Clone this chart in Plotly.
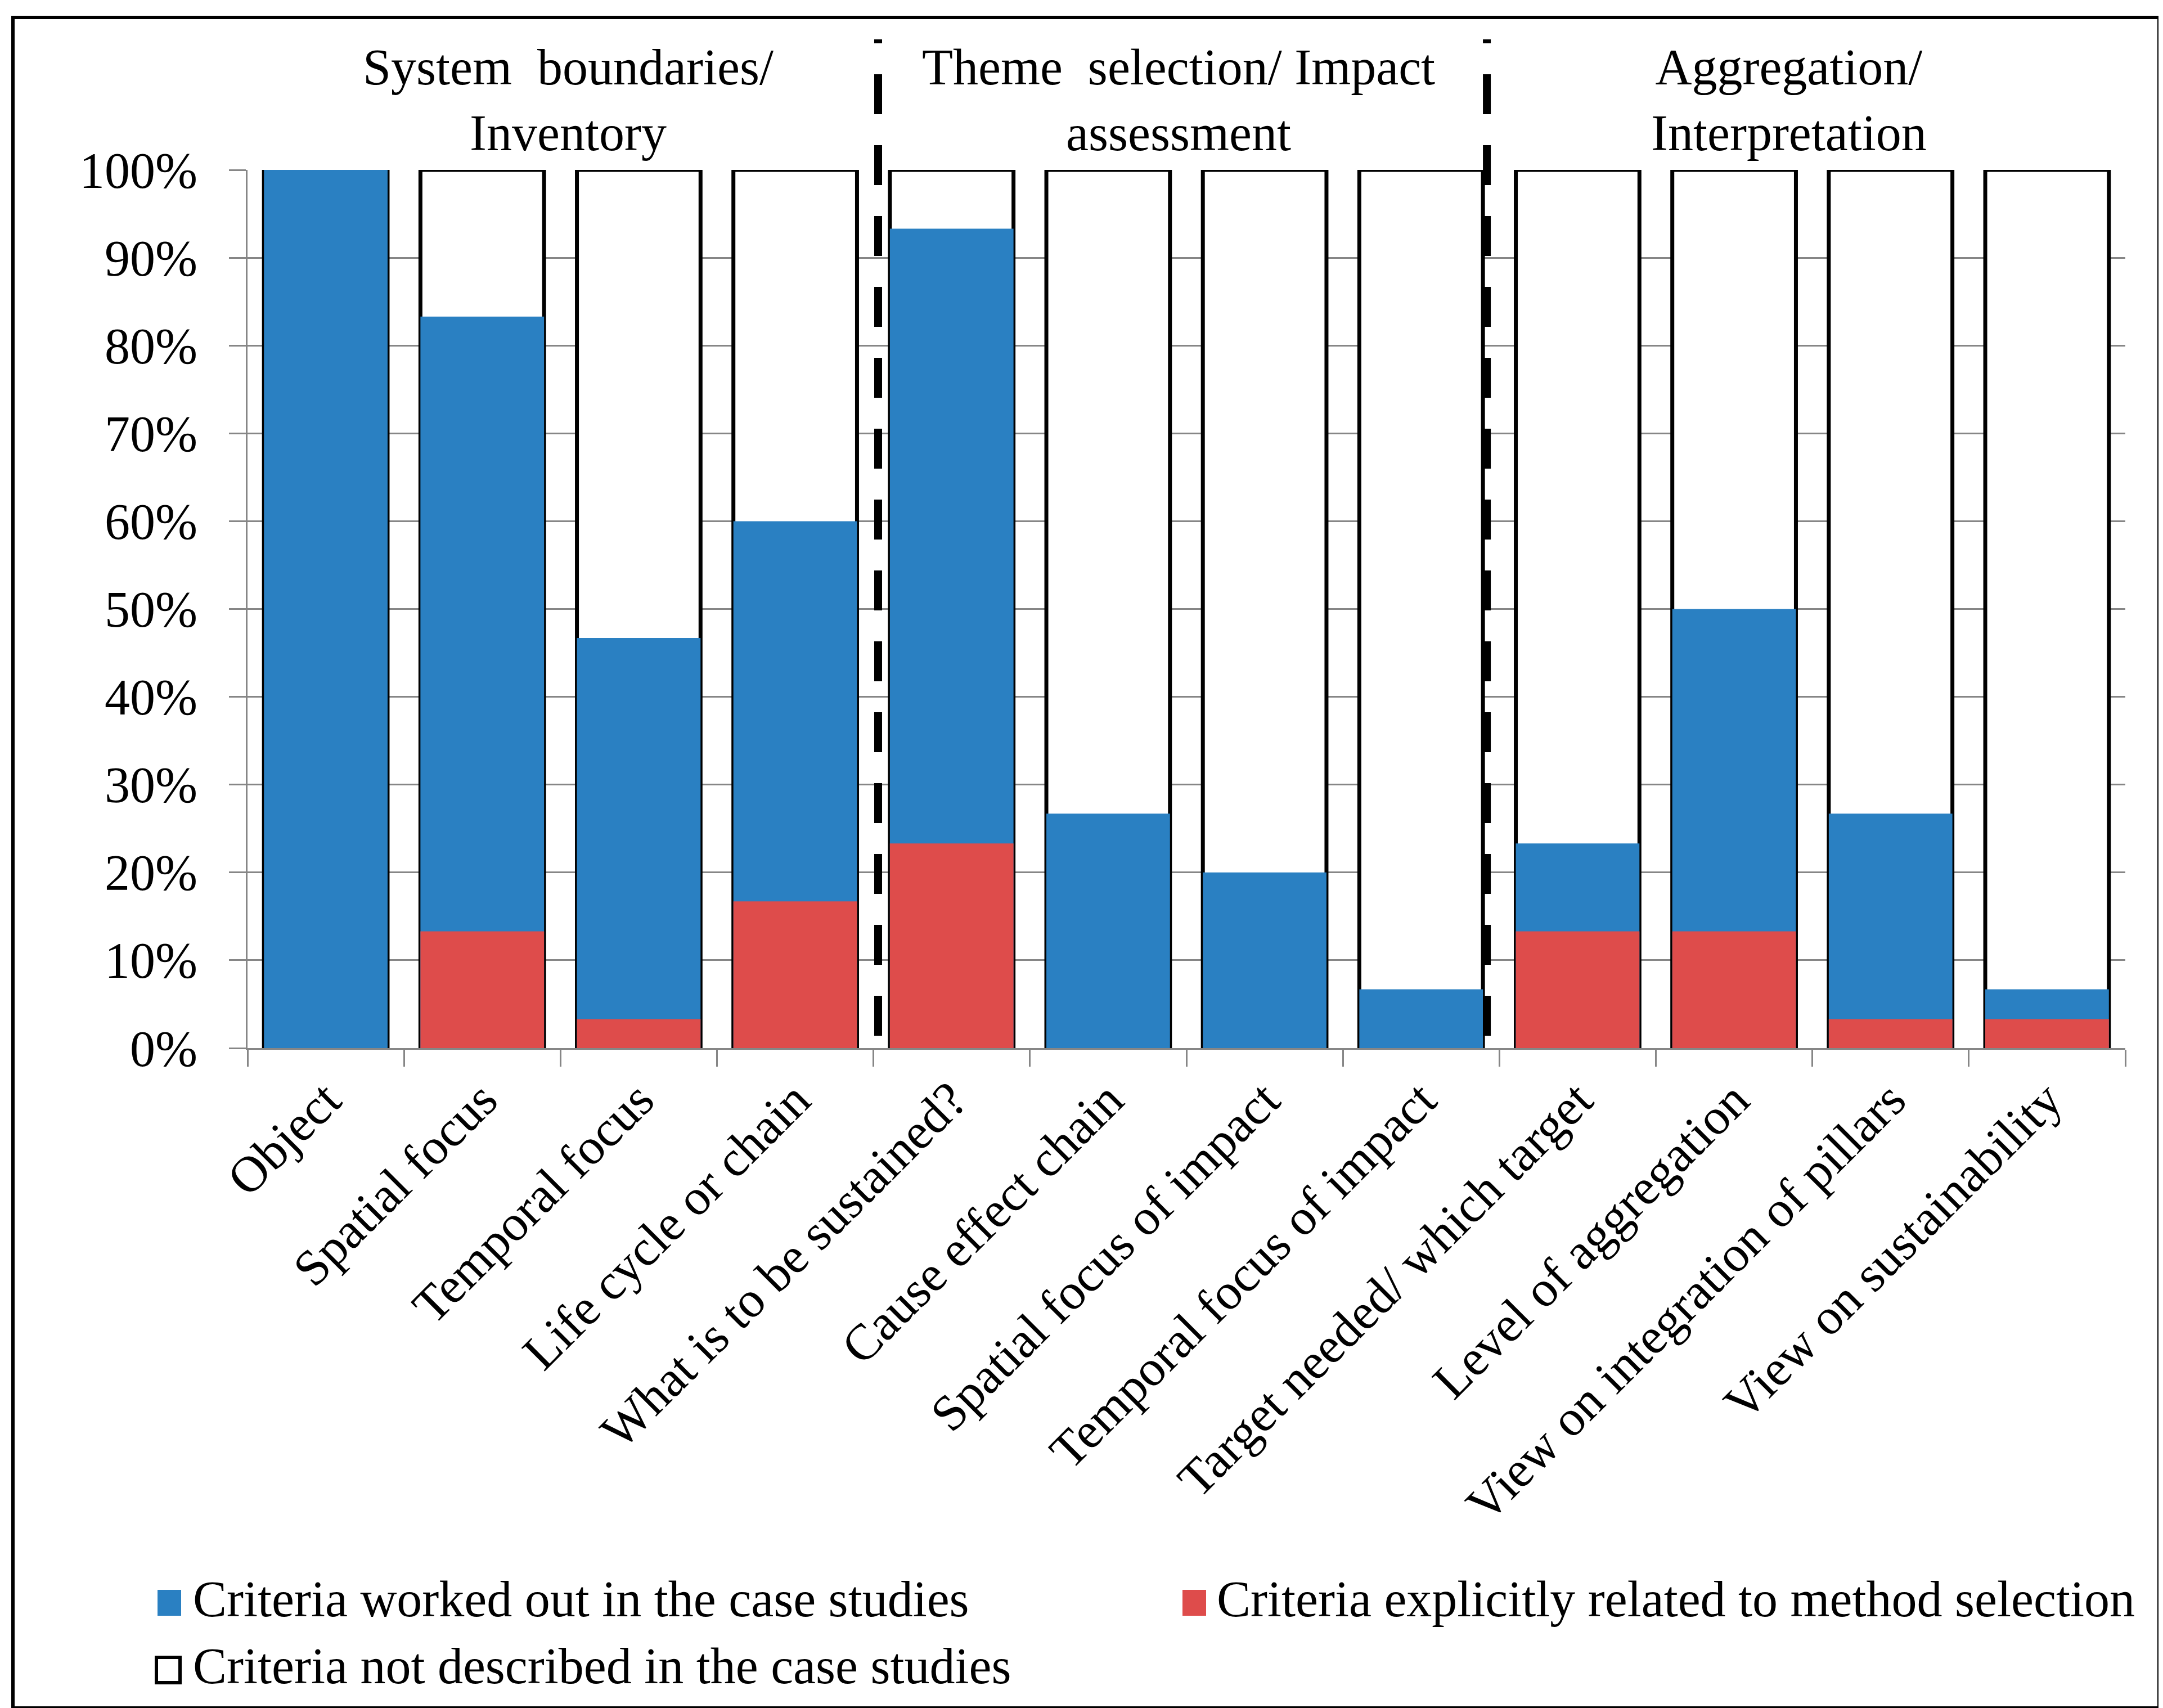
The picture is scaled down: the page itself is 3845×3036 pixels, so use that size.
import plotly.graph_objects as go

# ---------------- data ----------------
categories = [
    "Object", "Spatial focus", "Temporal focus", "Life cycle or chain",
    "What is to be sustained?", "Cause effect chain", "Spatial focus of impact",
    "Temporal focus of impact", "Target needed/ which target", "Level of aggregation",
    "View on integration of pillars", "View on sustainability",
]
# share of case studies (%) in which the criterion was worked out (blue bar height)
worked_out = [100.0, 83.3, 46.7, 60.0, 93.3, 26.7, 20.0, 6.7, 23.3, 50.0, 26.7, 6.7]
# share (%) explicitly related to method selection (red part)
explicit = [0.0, 13.3, 3.3, 16.7, 23.3, 0.0, 0.0, 0.0, 13.3, 13.3, 3.3, 3.3]
# share (%) not described (white part)
not_described = [0.0, 16.7, 53.3, 40.0, 6.7, 73.3, 80.0, 93.3, 76.7, 50.0, 73.3, 93.3]

group_titles = ["System  boundaries/<br>Inventory",
                "Theme  selection/ Impact<br>assessment",
                "Aggregation/<br>Interpretation"]
group_centers = [1.55, 5.45, 9.35]
group_dividers = [3.53, 7.42]

y_ticks = [0, 10, 20, 30, 40, 50, 60, 70, 80, 90, 100]
y_ticktext = ["0%", "10%", "20%", "30%", "40%", "50%", "60%", "70%", "80%", "90%", "100%"]

legend_names = ["Criteria worked out in the case studies",
                "Criteria explicitly related to method selection",
                "Criteria not described in the case studies"]

# ---------------- style ----------------
BLUE = "#2A80C2"
RED = "#DE4C4B"
FONT = "Liberation Serif"
FS = 90

FIG_W, FIG_H = 3845, 3036
PL, PR, PT, PB = 432, 3770, 294, 1855
PW, PH = PR - PL, PB - PT


def px_x(p):
    return (p - PL) / PW


def px_y(p):
    return (PB - p) / PH


white_tot = [w + n for w, n in zip(worked_out, not_described)]

fig = go.Figure()
fig.add_trace(go.Bar(
    x=categories, y=white_tot, name=legend_names[2], showlegend=False,
    marker=dict(color="white", line=dict(color="black", width=7)),
))
fig.add_trace(go.Bar(
    x=categories, y=worked_out, name=legend_names[0], showlegend=False,
    marker=dict(color=BLUE, line=dict(width=0)),
))
fig.add_trace(go.Bar(
    x=categories, y=explicit, name=legend_names[1], showlegend=False,
    marker=dict(color=RED, line=dict(width=0)),
))

shapes = []
for xd in group_dividers:
    shapes.append(dict(
        type="line", xref="x", yref="paper", x0=xd, x1=xd,
        y0=px_y(1833), y1=px_y(62),
        line=dict(color="black", width=14, dash="71px,55px"),
    ))
# outer frame
shapes.append(dict(
    type="rect", xref="paper", yref="paper",
    x0=px_x(15), x1=px_x(3830), y0=px_y(3028), y1=px_y(23),
    line=dict(color="black", width=6), fillcolor="rgba(0,0,0,0)",
))

annotations = []
for t, c in zip(group_titles, group_centers):
    annotations.append(dict(
        text=t, x=c, xref="x", y=px_y(170), yref="paper",
        xanchor="center", yanchor="middle", showarrow=False,
        font=dict(family=FONT, size=FS, color="black"), align="center",
    ))

# legend (drawn as swatches + text so the swatch size matches the original)
legend_items = [
    (legend_names[0], BLUE, None, (272, 314, 2818, 2864), 333, 2834),
    (legend_names[1], RED, None, (2094, 2136, 2818, 2864), 2153, 2834),
    (legend_names[2], "white", "black", (270, 312, 2938, 2983), 333, 2953),
]
for name, fill, edge, (x0, x1, y0, y1), tx, ty in legend_items:
    shapes.append(dict(
        type="rect", xref="paper", yref="paper",
        x0=px_x(x0), x1=px_x(x1), y0=px_y(y1), y1=px_y(y0),
        fillcolor=fill,
        line=dict(color=edge if edge else fill, width=6 if edge else 0),
    ))
    annotations.append(dict(
        text=name, x=px_x(tx), xref="paper", y=px_y(ty), yref="paper",
        xanchor="left", yanchor="middle", showarrow=False,
        font=dict(family=FONT, size=FS, color="black"),
    ))

fig.update_layout(
    width=FIG_W, height=FIG_H,
    margin=dict(l=PL, r=FIG_W - PR, t=PT, b=FIG_H - PB, autoexpand=False),
    paper_bgcolor="white", plot_bgcolor="white",
    barmode="overlay", bargap=0.21, showlegend=False,
    font=dict(family=FONT, size=FS, color="black"),
    shapes=shapes, annotations=annotations,
    xaxis=dict(
        type="category", tickangle=-45, tickson="boundaries",
        ticks="outside", ticklen=30, tickwidth=3, tickcolor="#868686",
        showline=True, linecolor="#868686", linewidth=3,
        showgrid=False, zeroline=False,
        tickfont=dict(family=FONT, size=FS, color="black"),
        range=[-0.5, 11.5],
    ),
    yaxis=dict(
        range=[0, 100], tickmode="array", tickvals=y_ticks, ticktext=y_ticktext,
        ticks="outside", ticklen=30, tickwidth=3, tickcolor="#868686",
        showline=True, linecolor="#868686", linewidth=3,
        showgrid=True, gridcolor="#868686", gridwidth=3, zeroline=False,
        tickfont=dict(family=FONT, size=FS, color="black"),
        ticklabelstandoff=38,
    ),
)

fig.write_html("out.html")
